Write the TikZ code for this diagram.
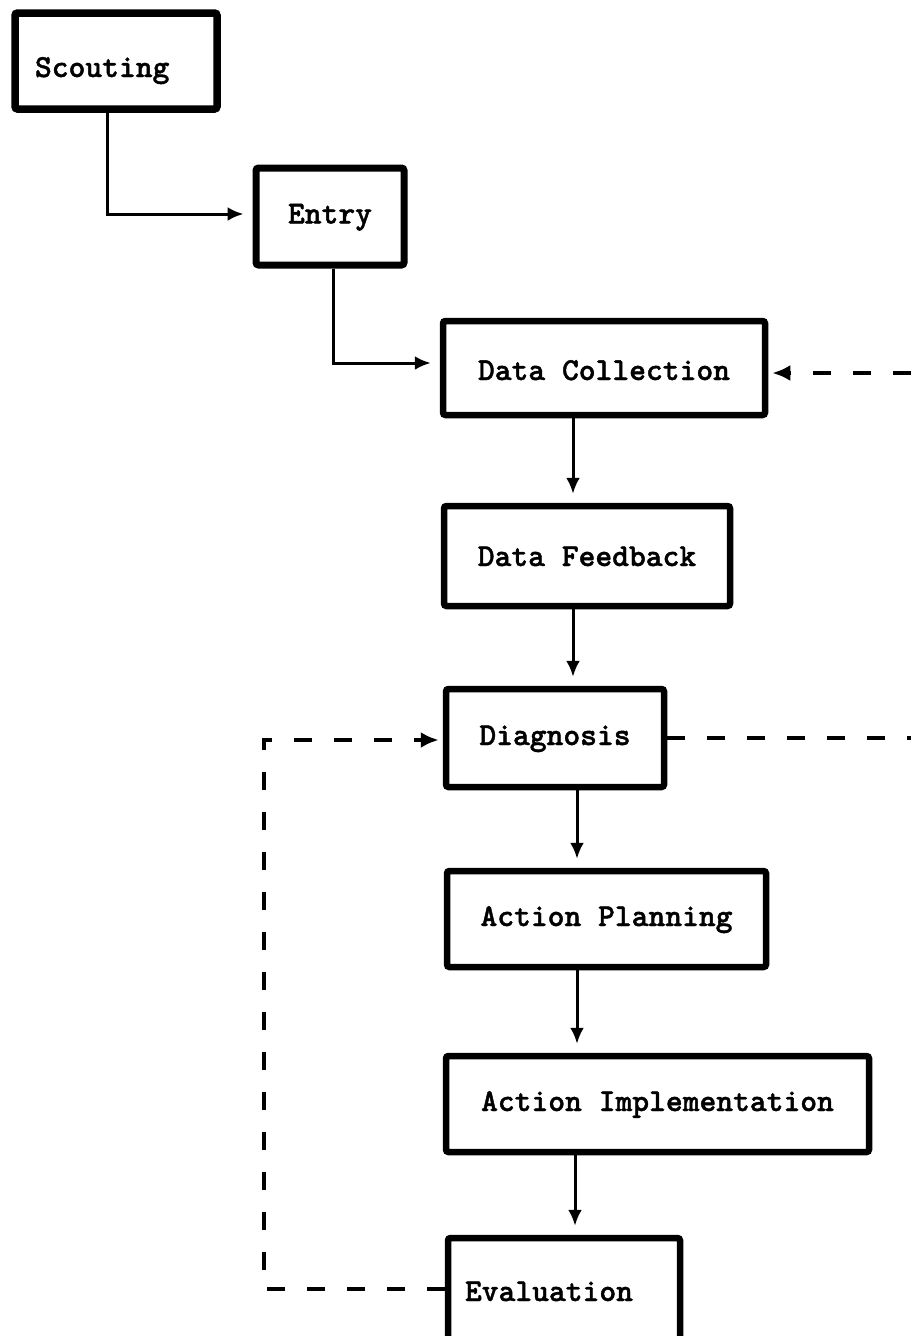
\documentclass[tikz,border=0pt]{standalone}
\usepackage{fontspec}
\newfontfamily\boxfont{Latin Modern Mono Light}[FakeBold=1.3]
\usetikzlibrary{arrows.meta}
\begin{document}
\begin{tikzpicture}[x=1pt,y=-1pt,
  stage/.style={draw, line width=6.5pt, rounded corners=2.5pt, inner sep=0pt,
    font=\boxfont\bfseries\fontsize{32}{38}\selectfont,
    text height=20pt, text depth=6pt, align=center},
  flow/.style={line width=3pt, -{Latex[length=16pt,width=14pt]}, shorten >=9pt},
  loop/.style={line width=4pt, dash pattern=on 18pt off 22pt},
  looparr/.style={loop, -{Latex[length=18pt,width=16pt]}, shorten >=4pt}
]
\useasboundingbox (0,0) rectangle (911,1336);
\clip (0,0) rectangle (911,1336);

% stages of the process
\node[stage, line width=7.5pt, minimum width=202pt, minimum height=96pt, text width=162pt,
      inner xsep=20pt, align=left, text height=38pt] (scout) at (116,61) {Scouting};
\node[stage, line width=7pt, minimum width=148pt, minimum height=97pt] (entry) at (330,216.5) {Entry};
\node[stage, minimum width=322pt, minimum height=94pt, text height=30pt] (dc) at (604,368) {Data Collection};
\node[stage, minimum width=286pt, minimum height=100pt, text height=26pt] (df) at (587,556) {Data Feedback};
\node[stage, minimum width=218pt, minimum height=98pt] (diag) at (555,738) {Diagnosis};
\node[stage, minimum width=319pt, minimum height=96pt] (ap) at (606.5,919) {Action Planning};
\node[stage, minimum width=423pt, minimum height=96pt] (ai) at (657.5,1104) {Action Implementation};
\node[stage, minimum width=232pt, minimum height=112pt, text width=198pt,
      inner xsep=17pt, align=left] (eval) at (564,1294) {Evaluation};

% guide coordinates for the connectors
\coordinate (sx0) at (107,0);
\coordinate (ex0) at (333,0);
\coordinate (sp1) at (573,0);
\coordinate (sp2) at (577,0);
\coordinate (sp3) at (575,0);
\coordinate (rTop) at (911,373);
\coordinate (rMid) at (911,738);
\coordinate (lTop) at (264,740);
\coordinate (lBot) at (264,1289);

% main flow
\draw[flow] (scout.south -| sx0) |- ([yshift=2.5pt]entry.west);
\draw[flow] (entry.south -| ex0) |- ([yshift=5pt]dc.west);
\draw[flow] (dc.south -| sp1) -- (df.north -| sp1);
\draw[flow] (df.south -| sp1) -- (diag.north -| sp1);
\draw[flow] (diag.south -| sp2) -- (ap.north -| sp2);
\draw[flow] (ap.south -| sp2) -- (ai.north -| sp2);
\draw[flow] (ai.south -| sp3) -- (eval.north -| sp3);

% feedback loops
\draw[looparr] (rTop) -- (dc.east |- rTop);
\draw[loop] (diag.east) -- (rMid);
\draw[looparr] (eval.west |- lBot) -- (lBot) -- (lTop) -- (diag.west |- lTop);
\end{tikzpicture}
\end{document}
